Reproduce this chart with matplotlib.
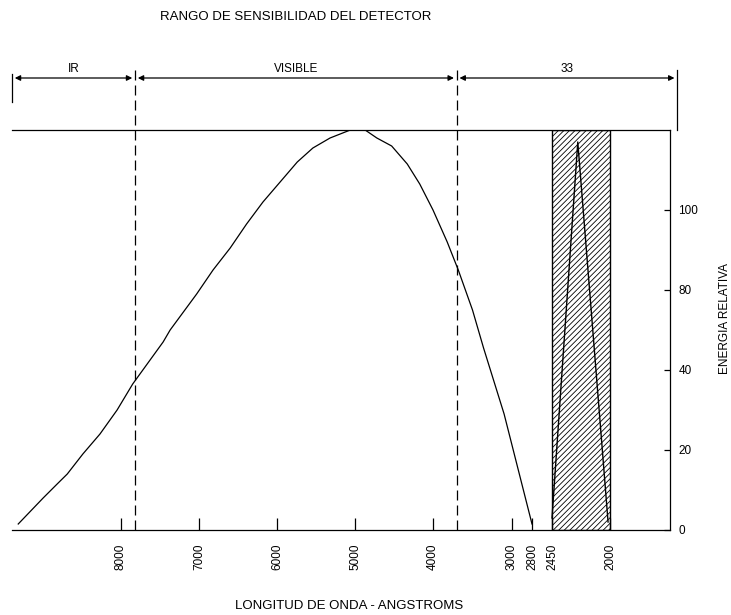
import numpy as np
import matplotlib
matplotlib.use("Agg")
import matplotlib.pyplot as plt
from matplotlib.transforms import blended_transform_factory

plt.rcParams['font.family'] = ['Liberation Sans', 'DejaVu Sans']
plt.rcParams['hatch.linewidth'] = 0.6

# ---------------- data ----------------
wavelength = [9320, 9000, 8820, 8690, 8490, 8270, 8050, 7850, 7460, 7370, 7030, 6820,
              6600, 6390, 6180, 5960, 5740, 5540, 5320, 5060, 4870, 4720, 4530,
              4330, 4170, 4000, 3820, 3680, 3500, 3360, 3100, 2800]
energy = [1.5, 8, 11.5, 14, 19, 24, 30, 36.5, 47, 50, 59, 65,
          70.5, 76.5, 82, 87, 92, 95.5, 98, 100, 100, 98, 96,
          91.5, 86.5, 80, 72, 65, 55, 45.5, 29, 1.5]

line_wl = [2450, 2250, 2015]
line_en = [3, 97, 2]

detector_band = (2450, 2000)

x_ticks = [8000, 7000, 6000, 5000, 4000, 3000, 2800, 2450, 2000]
x_ticklabels = ["8000", "7000", "6000", "5000", "4000", "3000", "2800", "2450", "2000"]
y_ticks = [0, 20, 40, 60, 80]
y_ticklabels = ["0", "20", "40", "80", "100"]

boundaries = [7820, 3700]
regions = ["IR", "VISIBLE", "33"]

# ---------------- non-linear wavelength scale ----------------
scale_w = np.array([1300, 1535, 2000, 2450, 2800, 3000, 4000, 5000, 6000, 7000, 8000, 9400, 9600])
scale_q = -np.array([690, 670, 610, 552, 532, 512, 433, 355, 277, 199, 121, 12, -4])

def fwd(w):
    return np.interp(w, scale_w, scale_q)

def inv(q):
    return np.interp(q, scale_q, scale_w)

fig = plt.figure(figsize=(7.31, 6.15), dpi=100)
ax = fig.add_axes([12/731, 85/615, 658/731, 400/615])
ax.set_xscale('function', functions=(fwd, inv))
ax.set_xlim(9400, 1535)
ax.set_ylim(0, 100)

ax.plot(wavelength, energy, color='black', lw=0.9)

ax.axvspan(detector_band[0], detector_band[1], facecolor='white', edgecolor='black',
           hatch='//////', lw=1.0)
ax.plot(line_wl, line_en, color='black', lw=1.0)

# spines
ax.spines['left'].set_visible(False)
for s in ['top', 'bottom', 'right']:
    ax.spines[s].set_linewidth(0.9)

ax.set_xticks(x_ticks)
ax.set_xticklabels(x_ticklabels, rotation=90, fontsize=8.5)
ax.xaxis.set_minor_locator(matplotlib.ticker.NullLocator())
ax.tick_params(axis='x', direction='in', length=9, width=0.9, pad=10)

ax.yaxis.tick_right()
ax.yaxis.set_label_position('right')
ax.set_yticks(y_ticks)
ax.set_yticklabels(y_ticklabels, fontsize=8.5)
ax.tick_params(axis='y', direction='in', length=4, width=0.9, pad=6)

ax.set_xlabel("LONGITUD DE ONDA - ANGSTROMS", fontsize=9.5)
ax.xaxis.label.set_va('center')
ax.xaxis.set_label_coords((349 - 12)/658, -(606 - 530)/400)
ax.set_ylabel("ENERGIA RELATIVA", fontsize=8.5)
ax.yaxis.set_label_coords(1.075, 0.53)

# region band above plot
tr = blended_transform_factory(ax.transData, ax.transAxes)
xmin, xmax = 9400, 1450
band_edges = [xmin] + boundaries + [xmax]
arrow_y = 1.13
for i, name in enumerate(regions):
    a, b = band_edges[i], band_edges[i + 1]
    ax.annotate("", xy=(b, arrow_y), xytext=(a, arrow_y), xycoords=tr, textcoords=tr,
                arrowprops=dict(arrowstyle='<|-|>', color='black', lw=0.9,
                                mutation_scale=8, shrinkA=2, shrinkB=2),
                annotation_clip=False)
    mid = inv((fwd(a) + fwd(b)) / 2)
    ax.text(mid, arrow_y + 0.008, name, transform=tr, ha='center', va='bottom',
            fontsize=8.5, clip_on=False)

ax.plot([xmin, xmin], [1.07, 1.14], transform=tr, color='black', lw=0.9, clip_on=False)
ax.plot([xmax, xmax], [1.0, 1.15], transform=tr, color='black', lw=0.9, clip_on=False)
for bnd in boundaries:
    ax.plot([bnd, bnd], [0, 1.15], transform=tr, color='black', lw=0.9,
            dashes=(8, 4), clip_on=False)

fig.text(296/731, 1 - 17/615, "RANGO DE SENSIBILIDAD DEL DETECTOR", ha='center', va='center',
         fontsize=9.5)

fig.savefig("out.png", dpi=100)
